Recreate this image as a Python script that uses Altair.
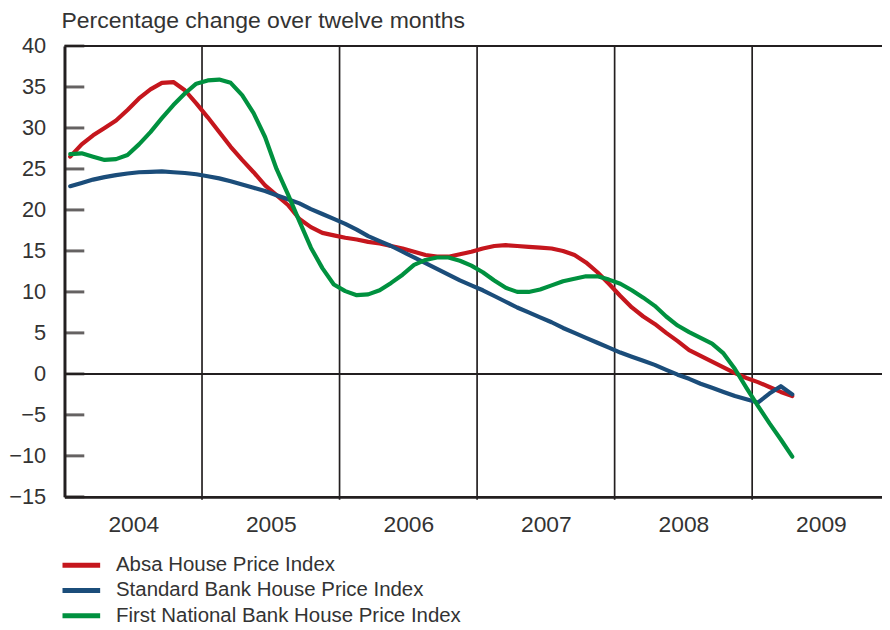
import altair as alt
import pandas as pd

# monthly observations, Jan 2004 .. Apr 2009
months = [f"{y}-{m:02d}" for y in range(2004, 2010) for m in range(1, 13)][:64]

absa = [26.5, 28.0, 29.1, 30.0, 30.9, 32.2, 33.6, 34.7, 35.5, 35.6, 34.6, 33.0,
        31.3, 29.5, 27.7, 26.1, 24.6, 23.0, 21.8, 20.6, 18.9, 17.9, 17.2, 16.9,
        16.6, 16.4, 16.1, 15.9, 15.6, 15.3, 14.9, 14.5, 14.3, 14.3, 14.6, 14.9,
        15.3, 15.6, 15.7, 15.6, 15.5, 15.4, 15.3, 15.0, 14.5, 13.6, 12.4, 11.0,
        9.5, 8.1, 7.0, 6.1, 5.0, 4.0, 2.9, 2.2, 1.5, 0.8, 0.1, -0.5,
        -1.0, -1.6, -2.2, -2.7]

standard = [22.9, 23.3, 23.7, 24.0, 24.25, 24.45, 24.6, 24.65, 24.7, 24.6, 24.5, 24.35,
            24.1, 23.85, 23.5, 23.1, 22.7, 22.3, 21.8, 21.3, 20.8, 20.1, 19.5, 18.9,
            18.3, 17.6, 16.8, 16.2, 15.6, 14.9, 14.2, 13.5, 12.8, 12.1, 11.4, 10.8,
            10.2, 9.5, 8.8, 8.1, 7.5, 6.9, 6.3, 5.6, 5.0, 4.4, 3.8, 3.2,
            2.6, 2.1, 1.6, 1.1, 0.5, -0.1, -0.6, -1.2, -1.7, -2.2, -2.7, -3.1,
            -3.5, -2.4, -1.5, -2.5]

fnb = [26.8, 26.9, 26.5, 26.1, 26.2, 26.7, 28.0, 29.5, 31.2, 32.8, 34.2, 35.4,
       35.8, 35.9, 35.5, 34.0, 31.8, 28.9, 25.0, 21.9, 18.6, 15.4, 12.9, 10.9,
       10.1, 9.6, 9.7, 10.2, 11.1, 12.1, 13.3, 13.9, 14.2, 14.2, 13.8, 13.2,
       12.4, 11.4, 10.5, 10.0, 10.0, 10.3, 10.8, 11.3, 11.6, 11.9, 11.9, 11.5,
       11.0, 10.2, 9.3, 8.3, 7.0, 5.9, 5.1, 4.4, 3.7, 2.5, 0.6, -1.7,
       -3.9, -6.0, -8.0, -10.1]

series_names = ["Absa House Price Index",
                "Standard Bank House Price Index",
                "First National Bank House Price Index"]
series_colors = ["#c5161d", "#1b4d7a", "#00913f"]

year_labels = [2004, 2005, 2006, 2007, 2008, 2009]
year_bounds = [2005, 2006, 2007, 2008, 2009]
y_ticks = [-15, -10, -5, 0, 5, 10, 15, 20, 25, 30, 35, 40]
h_lines = [0, 40]

AX = "#231f20"
TXT = "#333333"
FONT = "Liberation Sans"


def month_pos(s):
    y, m = s.split("-")
    return int(y) + (int(m) - 0.5) / 12.0


rows = []
for name, vals in zip(series_names, [absa, standard, fnb]):
    for mo, v in zip(months, vals):
        rows.append({"t": month_pos(mo), "value": v, "series": name})
df = pd.DataFrame(rows)

xscale = alt.Scale(domain=[2004, 2009.944], nice=False, zero=False)
yscale = alt.Scale(domain=[-15, 40], nice=False, zero=False)

vrules = alt.Chart(pd.DataFrame({"t": year_bounds})).mark_rule(
    color=AX, strokeWidth=1.7
).encode(
    x=alt.X("t:Q", scale=xscale),
    y=alt.value(0),
    y2=alt.value(458),
)

hrules = alt.Chart(pd.DataFrame({"v": h_lines})).mark_rule(
    color=AX, strokeWidth=2
).encode(y=alt.Y("v:Q", scale=yscale))

ticks = alt.Chart(pd.DataFrame({"v": y_ticks})).mark_tick(
    color=AX, thickness=3, size=20, orient="horizontal"
).encode(y=alt.Y("v:Q", scale=yscale), x=alt.value(10))

lines = alt.Chart(df).mark_line(
    strokeWidth=4.2, strokeJoin="round", strokeCap="round"
).encode(
    x=alt.X("t:Q", scale=xscale,
            axis=alt.Axis(values=[y + 0.5 for y in year_labels],
                          labelExpr="'' + floor(datum.value)",
                          ticks=False, grid=False, domainWidth=2.7,
                          domainColor=AX, labelPadding=17, labelFontSize=23,
                          labelFlush=False, labelColor=TXT, labelFont=FONT,
                          title=None)),
    y=alt.Y("value:Q", scale=yscale,
            axis=alt.Axis(values=y_ticks, ticks=False, grid=False,
                          domainWidth=3, domainColor=AX, labelPadding=19,
                          labelFontSize=22, labelColor=TXT, labelFont=FONT,
                          title=None)),
    color=alt.Color("series:N",
                    scale=alt.Scale(domain=series_names, range=series_colors),
                    legend=alt.Legend(title=None, orient="none",
                                      legendX=-4.5, legendY=514,
                                      symbolType="stroke", symbolSize=1444,
                                      symbolStrokeWidth=5, clipHeight=20,
                                      rowPadding=4.5, labelOffset=13.5,
                                      labelFontSize=20.6, labelFont=FONT,
                                      labelColor=TXT, labelLimit=600,
                                      padding=0)),
    order=alt.Order("t:Q"),
)

chart = alt.layer(vrules, hrules, ticks, lines).properties(
    width=825,
    height=455,
    padding={"left": 57, "top": 35.5, "right": 0, "bottom": 128},
    autosize=alt.AutoSizeParams(type="none"),
    title=alt.TitleParams(
        "Percentage change over twelve months",
        anchor="start", frame="group", fontSize=23.2, font=FONT,
        color=TXT, fontWeight="normal", baseline="alphabetic",
        offset=3.5, dx=-3, dy=20,
    ),
).configure_view(strokeWidth=0)

chart.save("out.html", embed_options={"renderer": "svg", "actions": False})
